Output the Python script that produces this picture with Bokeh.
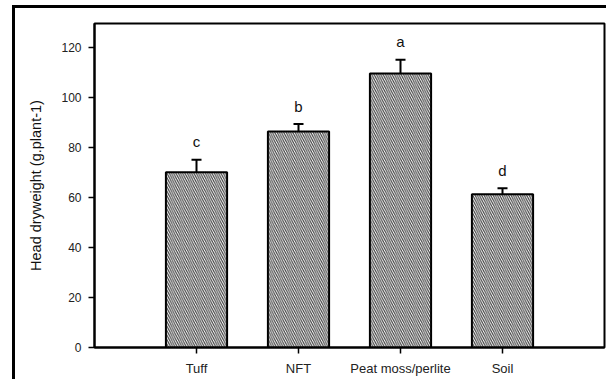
from bokeh.plotting import figure
from bokeh.models import ColumnDataSource, Whisker, TeeHead, FixedTicker, Range1d
from bokeh.core.properties import value
from bokeh.embed import file_html
from bokeh.resources import INLINE

categories = ["Tuff", "NFT", "Peat moss/perlite", "Soil"]
values = [70.0, 86.3, 109.5, 61.3]
errors = [5.0, 3.0, 5.5, 2.4]
letters = ["c", "b", "a", "d"]
y_ticks = [0, 20, 40, 60, 80, 100, 120]

xs = list(range(1, len(categories) + 1))
src = ColumnDataSource(dict(
    x=xs, top=values,
    upper=[v + e for v, e in zip(values, errors)],
    lower=[v - e for v, e in zip(values, errors)],
    letter=letters,
))

p = figure(width=594, height=374, output_backend="svg", toolbar_location=None,
           x_range=Range1d(0, 5), y_range=Range1d(0, 129.5),
           min_border_left=79, min_border_right=5, min_border_top=15, min_border_bottom=35)
p.styles = {"margin-left": "12px", "margin-top": "5px",
            "border-top": "3px solid black", "border-left": "3px solid black"}

p.vbar(x="x", top="top", width=0.6, source=src, fill_color="white",
       line_color="black", line_width=2,
       hatch_pattern="\\", hatch_color="#3a3a3a", hatch_scale=4.5, hatch_weight=1.1)

w = Whisker(base="x", upper="upper", lower="lower", source=src,
            line_color="black", line_width=2,
            upper_head=TeeHead(size=10, line_width=2, line_color="black"),
            lower_head=TeeHead(size=10, line_width=1.5, line_color="black"))
p.add_layout(w)

p.text(x="x", y="upper", text="letter", source=src, text_align="center",
       text_baseline="alphabetic", y_offset=-18, text_font_size="15px",
       text_font=value("Liberation Sans"), text_color="#111111")

p.grid.visible = False
p.outline_line_color = "black"
p.outline_line_width = 2

p.xaxis.ticker = FixedTicker(ticks=xs)
p.xaxis.major_label_overrides = {x: c for x, c in zip(xs, categories)}
p.yaxis.ticker = FixedTicker(ticks=y_ticks)
for ax in (p.xaxis, p.yaxis):
    ax.axis_line_color = "black"
    ax.axis_line_width = 2
    ax.major_tick_line_color = "black"
    ax.major_tick_line_width = 1.5
    ax.major_tick_out = 6
    ax.major_tick_in = 0
    ax.minor_tick_line_color = None
    ax.major_label_text_font = "Liberation Sans"
    ax.major_label_text_color = "#222222"
p.xaxis.major_label_text_font_size = "13px"
p.yaxis.major_label_text_font_size = "12px"
p.xaxis.major_label_standoff = 7
p.yaxis.major_label_standoff = 7
p.yaxis.axis_label = "Head dryweight (g.plant-1)"
p.yaxis.axis_label_text_font = "Liberation Sans"
p.yaxis.axis_label_text_font_size = "14.5px"
p.yaxis.axis_label_text_font_style = "normal"
p.yaxis.axis_label_text_color = "#111111"
p.yaxis.axis_label_standoff = 14

open("out.html", "w").write(file_html(p, INLINE))
